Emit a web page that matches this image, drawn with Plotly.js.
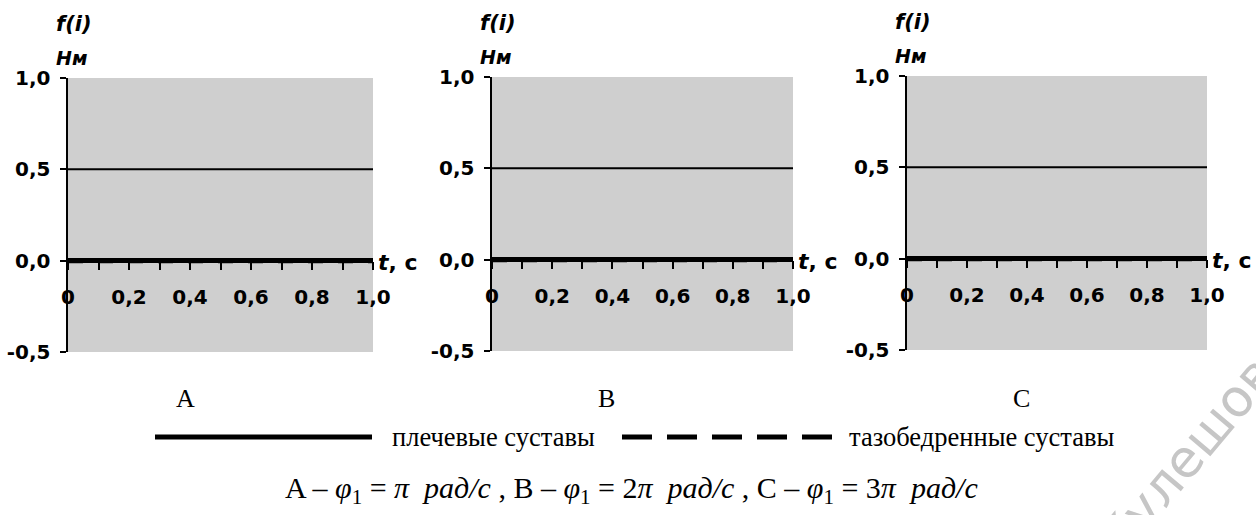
<!DOCTYPE html>
<html><head><meta charset="utf-8">
<script src="https://cdn.plot.ly/plotly-3.0.1.min.js"></script>
<style>html,body{margin:0;padding:0;background:#fff}#chart{width:1256px;height:515px}</style>
</head><body><div id="chart"></div>
<script>
// ---- data ----
const panelLabels = ['A', 'B', 'C'];
const t = [0, 0.1, 0.2, 0.3, 0.4, 0.5, 0.6, 0.7, 0.8, 0.9, 1.0];
const shoulderA = [0.5, 0.5, 0.5, 0.5, 0.5, 0.5, 0.5, 0.5, 0.5, 0.5, 0.5];
const hipA      = [0, 0, 0, 0, 0, 0, 0, 0, 0, 0, 0];
const shoulderB = [0.5, 0.5, 0.5, 0.5, 0.5, 0.5, 0.5, 0.5, 0.5, 0.5, 0.5];
const hipB      = [0, 0, 0, 0, 0, 0, 0, 0, 0, 0, 0];
const shoulderC = [0.5, 0.5, 0.5, 0.5, 0.5, 0.5, 0.5, 0.5, 0.5, 0.5, 0.5];
const hipC      = [0, 0, 0, 0, 0, 0, 0, 0, 0, 0, 0];
const seriesNames = ['плечевые суставы', 'тазобедренные суставы'];
const xTickVals = [0, 0.2, 0.4, 0.6, 0.8, 1.0];
const xTickText = ['0', '0,2', '0,4', '0,6', '0,8', '1,0'];
const yTickVals = [-0.5, 0, 0.5, 1.0];
const yTickText = ['-0,5', '0,0', '0,5', '1,0'];
const yTitleTop = 'f(i)';
const yUnit = 'Нм';
const xTitle = '<i>t</i>, c';
const formula = 'A – <i>φ</i><sub>1</sub> = <i>π  рад/с</i> , B – <i>φ</i><sub>1</sub> = 2<i>π  рад/с</i> , C – <i>φ</i><sub>1</sub> = 3<i>π  рад/с</i>';
const watermark = 'Кулешова';

// ---- layout ----
const W = 1256, H = 515;
const boxes = [
  {l: 68,  r: 373,  t: 78, b: 352, lab: 185},
  {l: 492, r: 793,  t: 77, b: 351, lab: 606},
  {l: 907, r: 1207, t: 76, b: 350, lab: 1021}
];
const shoulder = [shoulderA, shoulderB, shoulderC];
const hip = [hipA, hipB, hipC];
const tickFont = {family: 'DejaVu Sans', size: 20, weight: 'bold', color: '#000'};
const serif = 'Liberation Serif, Times New Roman, serif';

const data = [];
const layout = {
  width: W, height: H,
  margin: {l: 0, r: 0, t: 0, b: 0},
  paper_bgcolor: '#fff',
  plot_bgcolor: '#cfcfcf',
  showlegend: false,
  annotations: [],
  shapes: []
};

boxes.forEach((bx, i) => {
  const sx = i === 0 ? '' : String(i + 1);
  const y0 = 1 - bx.b / H, y1 = 1 - bx.t / H;
  layout['xaxis' + sx] = {
    domain: [bx.l / W, bx.r / W], range: [0, 1.0],
    anchor: 'free', position: y0 + (y1 - y0) / 3,
    showline: false,
    ticks: 'outside', ticklen: 8, tickwidth: 2, tickcolor: '#000',
    tickmode: 'array', tickvals: xTickVals, ticktext: xTickText,
    tickfont: tickFont, ticklabelstandoff: 10,
    minor: {tickmode: 'linear', tick0: 0, dtick: 0.1, ticks: 'outside', ticklen: 8, tickwidth: 2, tickcolor: '#000'},
    showgrid: false, zeroline: false, fixedrange: true
  };
  layout['yaxis' + sx] = {
    domain: [y0, y1], range: [-0.5, 1.0],
    anchor: 'x' + sx,
    showline: true, linewidth: 2.5, linecolor: '#000',
    ticks: 'outside', ticklen: 6, tickwidth: 2, tickcolor: '#000',
    tickmode: 'array', tickvals: yTickVals, ticktext: yTickText,
    tickfont: tickFont, ticklabelstandoff: 5,
    showgrid: false, zeroline: true, zerolinewidth: 5, zerolinecolor: '#000',
    fixedrange: true
  };
  data.push({
    x: t, y: shoulder[i], xaxis: 'x' + sx, yaxis: 'y' + sx, name: seriesNames[0],
    mode: 'lines', line: {color: '#000', width: 2}
  });
  data.push({
    x: t, y: hip[i], xaxis: 'x' + sx, yaxis: 'y' + sx, name: seriesNames[1],
    mode: 'lines', line: {color: '#000', width: 5, dash: 'dash'}
  });
  layout.annotations.push(
    {xref: 'x' + sx + ' domain', yref: 'y' + sx + ' domain', x: 0, y: 1, xanchor: 'left', yanchor: 'middle',
     xshift: -14, yshift: 54, text: '<b><i>' + yTitleTop + '</i></b>', showarrow: false,
     font: {family: 'DejaVu Sans', size: 21, color: '#000'}},
    {xref: 'x' + sx + ' domain', yref: 'y' + sx + ' domain', x: 0, y: 1, xanchor: 'left', yanchor: 'middle',
     xshift: -14, yshift: 20, text: '<b><i>' + yUnit + '</i></b>', showarrow: false,
     font: {family: 'DejaVu Sans', size: 19, color: '#000'}},
    {xref: 'x' + sx + ' domain', yref: 'y' + sx, x: 1, y: 0, xanchor: 'left', yanchor: 'middle',
     xshift: 3, yshift: -2, text: '<b>' + xTitle + '</b>', showarrow: false,
     font: {family: 'DejaVu Sans', size: 22, color: '#000'}},
    {xref: 'paper', yref: 'paper', x: bx.lab / W, y: 1 - 398 / H, xanchor: 'center', yanchor: 'middle',
     text: panelLabels[i], showarrow: false, font: {family: serif, size: 26, color: '#000'}}
  );
});

// legend drawn below the panels
const legY = 1 - 437 / H;
layout.shapes.push(
  {type: 'line', xref: 'paper', yref: 'paper', x0: 155 / W, x1: 372 / W, y0: legY, y1: legY,
   line: {color: '#000', width: 5}},
  {type: 'line', xref: 'paper', yref: 'paper', x0: 622 / W, x1: 833 / W, y0: legY, y1: legY,
   line: {color: '#000', width: 5, dash: '30px,15px'}}
);
layout.annotations.push(
  {xref: 'paper', yref: 'paper', x: 390 / W, y: legY, xanchor: 'left', yanchor: 'middle',
   text: seriesNames[0], showarrow: false, font: {family: serif, size: 26.5, color: '#000'}},
  {xref: 'paper', yref: 'paper', x: 847 / W, y: legY, xanchor: 'left', yanchor: 'middle',
   text: seriesNames[1], showarrow: false, font: {family: serif, size: 26.5, color: '#000'}},
  {xref: 'paper', yref: 'paper', x: 631 / W, y: 1 - 490 / H, xanchor: 'center', yanchor: 'middle',
   text: formula, showarrow: false, font: {family: serif, size: 30, color: '#000'}},
  {xref: 'paper', yref: 'paper', x: 1196 / W, y: 1 - 445 / H, xanchor: 'center', yanchor: 'middle',
   text: watermark, textangle: -50, showarrow: false,
   font: {family: 'DejaVu Sans', size: 52, color: '#c6c6c6'}}
);

Plotly.newPlot('chart', data, layout, {staticPlot: true, displayModeBar: false});
</script>
</body></html>
